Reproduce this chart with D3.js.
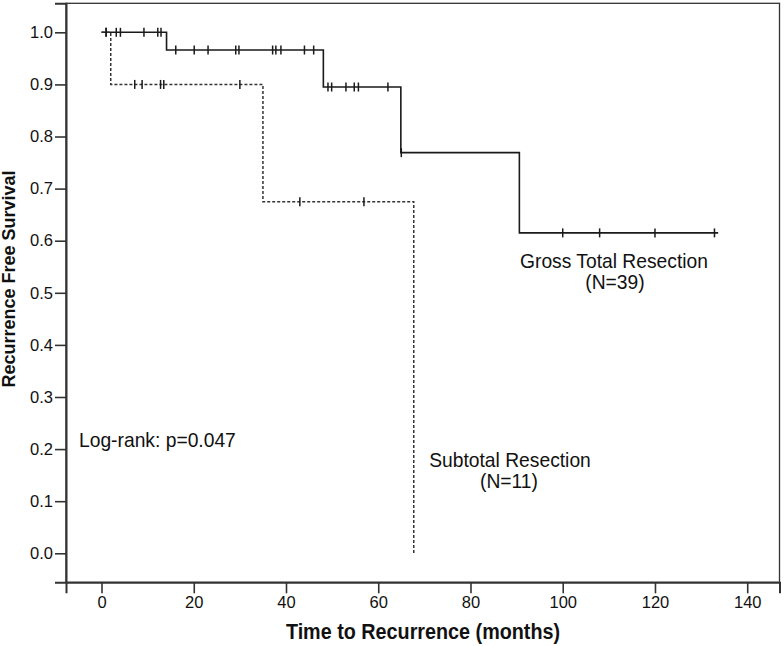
<!DOCTYPE html>
<html><head><meta charset="utf-8">
<script src="https://cdn.jsdelivr.net/npm/d3@7"></script>
<style>body{margin:0;background:#fff}svg{display:block}text{font-family:"Liberation Sans",Arial,sans-serif;fill:#111}</style>
</head><body>
<svg id="c" width="784" height="646"></svg>
<script>
// Kaplan-Meier step data (time in months, survival)
const gtrSteps = [[0,1.0],[14.1,0.966],[48.1,0.895],[64.9,0.769],[90.6,0.615],[133.7,0.615]];
const gtrCensored = [1.0,3.2,4.1,9.2,12.2,12.9,16.1,20.1,23.1,29.1,29.8,37.1,37.8,38.9,44.0,46.0,49.1,49.9,53.0,54.8,55.7,62.1,65.0,100,108,120,132.9];
const strSteps = [[0,1.0],[2.0,0.9],[35.0,0.675],[67.7,0.0]];
const strCensored = [1.0,7.2,8.8,12.8,13.5,30.0,43.0,56.9];
const xTicks = [0,20,40,60,80,100,120,140];
const yTicks = [0,0.1,0.2,0.3,0.4,0.5,0.6,0.7,0.8,0.9,1.0];
const labels = {gtr:["Gross Total Resection","(N=39)"], str:["Subtotal Resection","(N=11)"], logrank:"Log-rank: p=0.047", xTitle:"Time to Recurrence (months)", yTitle:"Recurrence Free Survival"};

const svg = d3.select("#c");
const L=66, T=3.3, R=779.5, B=582.3;
const x = d3.scaleLinear().domain([-7.7,147.0]).range([L,R]);
const y = d3.scaleLinear().domain([-0.0557,1.0557]).range([B,T]);

// frame
svg.append("rect").attr("x",L).attr("y",T).attr("width",R-L).attr("height",B-T)
  .attr("fill","none").attr("stroke","#333").attr("stroke-width",1.3);

const ya = svg.append("g").attr("transform",`translate(${L},0)`)
  .call(d3.axisLeft(y).tickValues(yTicks).tickFormat(d3.format(".1f")).tickSize(11).tickPadding(2));
const xa = svg.append("g").attr("transform",`translate(0,${B})`)
  .call(d3.axisBottom(x).tickValues(xTicks).tickFormat(d3.format("d")).tickSize(11).tickPadding(3));
[ya,xa].forEach(a=>{
  a.select(".domain").attr("stroke","#333").attr("stroke-width",2);
  a.selectAll(".tick line").attr("stroke","#333").attr("stroke-width",1.6);
  a.selectAll(".tick text").attr("font-size",16.5).attr("font-family","'Liberation Sans',Arial,sans-serif").attr("fill","#111");
});

const stepLine = d3.line().x(d=>x(d[0])).y(d=>y(d[1])).curve(d3.curveStepAfter);
function findS(steps,t){let s=steps[0][1];for(const p of steps){if(p[0]<=t)s=p[1];}return s;}

svg.append("path").datum(gtrSteps).attr("d",stepLine).attr("fill","none").attr("stroke","#1a1a1a").attr("stroke-width",1.6);
svg.append("path").datum(strSteps).attr("d",stepLine).attr("fill","none").attr("stroke","#333").attr("stroke-width",1.5).attr("stroke-dasharray","3,2");

function marks(times,steps){
  svg.append("g").selectAll("line").data(times).join("line")
    .attr("x1",d=>x(d)).attr("x2",d=>x(d))
    .attr("y1",d=>y(findS(steps,d))-4.5).attr("y2",d=>y(findS(steps,d))+4.5)
    .attr("stroke","#1a1a1a").attr("stroke-width",1.5);
}
marks(gtrCensored,gtrSteps);
marks(strCensored,strSteps);

// annotations (slightly condensed like the original raster)
const fs=20.5, sx=0.94;
function note(tx,ty,anchor,str){
  svg.append("text").attr("transform",`translate(${tx},${ty}) scale(${sx},1)`)
    .attr("text-anchor",anchor).attr("font-size",fs).text(str);
}
note(614,268,"middle",labels.gtr[0]);
note(615,289,"middle",labels.gtr[1]);
note(510,467,"middle",labels.str[0]);
note(509,488,"middle",labels.str[1]);
note(79,447,"start",labels.logrank);

svg.append("text").attr("transform","translate(423,639) scale(0.92,1)").attr("text-anchor","middle").attr("font-size",21.5).attr("font-weight","bold").text(labels.xTitle);
svg.append("text").attr("transform","translate(15,279) rotate(-90)").attr("text-anchor","middle").attr("font-size",18).attr("font-weight","bold").text(labels.yTitle);
</script>
</body></html>
